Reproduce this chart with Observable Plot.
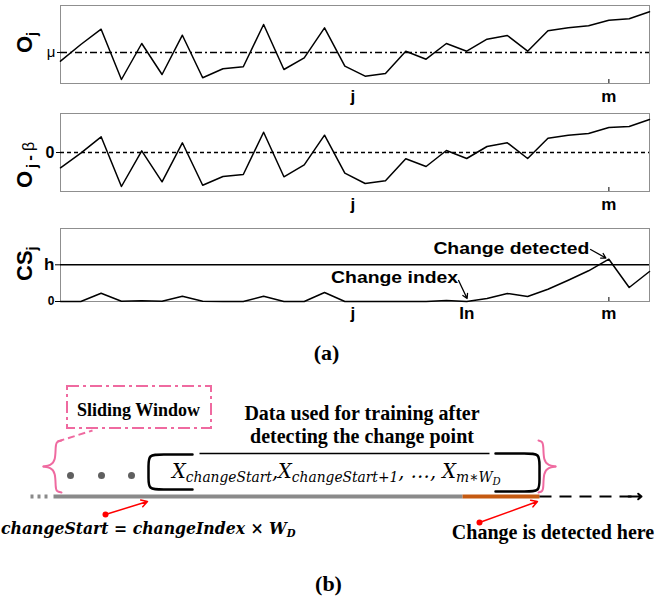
<!DOCTYPE html>
<html><head><meta charset="utf-8">
<script src="https://cdn.jsdelivr.net/npm/d3@7"></script>
<script src="https://cdn.jsdelivr.net/npm/@observablehq/plot@0.6"></script>
<style>
body{margin:0;background:#fff;}
#wrap{position:relative;width:668px;height:601px;overflow:hidden;background:#fff;}
#wrap svg{position:absolute;left:0;overflow:visible;}
</style></head><body><div id="wrap"></div>
<script>
// ---------- Data (a) ----------
const steps = [0,1,2,3,4,5,6,7,8,9,10,11,12,13,14,15,16,17,18,19,20,21,22,23,24,25,26,27,28,29];
const observed = [-8.7, 8.0, 23.3, -27.0, 9.0, -22.0, 17.3, -25.3, -16.3, -14.3, 28.0, -17.0, -5.3, 24.7, -13.7, -23.7, -21.0, 1.3, -6.7, 9.0, 1.3, 13.3, 17.0, 1.3, 21.7, 24.7, 26.7, 32.3, 33.7, 40.7];
const centered = [-15.3, -0.7, 15.7, -34.0, 1.7, -29.3, 9.7, -32.7, -24.0, -22.0, 20.3, -24.3, -12.3, 17.3, -20.7, -31.0, -28.3, -6.3, -14.0, 2.0, -6.0, 6.0, 9.7, -6.0, 14.3, 17.3, 19.0, 25.0, 26.0, 33.0];
const cusum = [0, 0, 8.3, 0.3, 0.7, 0.3, 5.3, 0.3, 0, 0, 5.3, 0, 0, 9.0, 0, 0, 0, 0, 0, 1.0, 0, 3.0, 8.0, 5.0, 12.3, 21.3, 30.7, 42.3, 14.0, 30.0];
const muLevel = 0, zeroLevel = 0, threshold = 36.7;
const mIndex = 27;
const ticksAB = [14.4, 27], ticksABLabels = ["j", "m"];
const ticksC = [14.4, 20, 27], ticksCLabels = ["j", "In", "m"];
const notes = [{label: "Change detected", x: 22.2, y: 53}, {label: "Change index", x: 16.45, y: 24}];
const noteWidths = [156, 127];
const pointers = [{x1: 26.1, y1: 52, x2: 26.85, y2: 43.5}, {x1: 19.6, y1: 21, x2: 20.02, y2: 3}];

// ---------- Data (b) ----------
const pink = "#ef6aa0";
const timelineY = 496;
const timeline = [
  {part: "lead", from: 30, to: 51},
  {part: "history", from: 53, to: 462},
  {part: "newData", from: 462, to: 539},
  {part: "future", from: 539, to: 632}
];
const windowDots = [70, 101, 131];
const windowBox = [{x1: 67, x2: 211, y1: 386, y2: 428}];
const connector = [{x1: 57, y1: 441, x2: 92, y2: 430}];
const braces = [
  ...[[61,440],[56,441],[55,446],[55,460],[50,465],[43,466]].map(([x,y]) => ({part: "L1", x, y})),
  ...[[43,466],[50,467],[55,472],[55,487],[56,491],[61,492]].map(([x,y]) => ({part: "L2", x, y})),
  ...[[538,440],[542,441],[543,446],[543,460],[548,465],[555,466]].map(([x,y]) => ({part: "R1", x, y})),
  ...[[555,466],[548,467],[543,472],[543,487],[542,491],[538,492]].map(([x,y]) => ({part: "R2", x, y}))
];
const brackets = [
  ...[[192,454],[160,454],[148,454],[148,466],[148,477],[148,489],[160,489],[192,489]].map(([x,y]) => ({part: "L", x, y})),
  ...[[495,453],[527,453],[539,453],[539,465],[539,479],[539,491],[527,491],[495,491]].map(([x,y]) => ({part: "R", x, y}))
];
const topLine = [{x1: 199, x2: 489, y: 453}];
const redPointers = [{x1: 105, y1: 514, x2: 147, y2: 501}, {x1: 479, y1: 522, x2: 537, y2: 501}];
const labelsB = [
  {text: "(a)", x: 326, y: 352, size: 22},
  {text: "Sliding Window", x: 138, y: 409.5, size: 18},
  {text: "Data used for training after", x: 361.5, y: 413.5, size: 20},
  {text: "detecting the change point", x: 361.5, y: 436.5, size: 20},
  {text: "Change is detected here", x: 552.5, y: 532.5, size: 20},
  {text: "(b)", x: 328, y: 583, size: 22}
];

const wrap = document.getElementById("wrap");
const sansStyle = {fontFamily: "Liberation Sans, Arial, sans-serif", fontSize: "16px", background: "transparent", overflow: "visible"};
const dataLine = vals => Plot.line(steps, {x: d => d, y: d => vals[d], stroke: "#000", strokeWidth: 1.5});
const fmt = (ticks, labels) => d => labels[ticks.indexOf(d)];

function place(svg, top) { svg.style.top = top + "px"; wrap.appendChild(svg); return svg; }
function yTitle(svg, pageTop, x, yBottom, parts) {
  const t = d3.select(svg).append("text")
    .attr("transform", `translate(${x},${yBottom - pageTop}) rotate(-90)`)
    .attr("text-anchor", "start")
    .attr("font-family", "Liberation Sans, Arial, sans-serif")
    .attr("font-weight", "bold").attr("font-size", 22).attr("fill", "#000");
  parts.forEach(p => t.append("tspan").attr("font-size", p.size).attr("dy", p.dy).attr("dx", p.dx || 0)
    .attr("font-weight", p.weight || "bold").text(p.text));
}
// scale a (possibly multi-tspan) text horizontally so it spans a given width
function fitScaled(sel, x, y, width) {
  sel.attr("x", 0).attr("y", 0).attr("text-anchor", "start");
  const w = sel.node().getBBox().width;
  sel.attr("transform", `translate(${x},${y}) scale(${width / w},1)`);
}

// Panel 1: O_j
const p1 = Plot.plot({
  width: 668, height: 108, marginLeft: 60, marginRight: 19, marginTop: 5, marginBottom: 25,
  x: {domain: [0, 29]}, y: {domain: [-31, 47]}, style: sansStyle,
  marks: [
    Plot.frame({stroke: "#8f8f8f"}),
    Plot.ruleY([muLevel], {stroke: "#000", strokeWidth: 1.5, strokeDasharray: "7,3,2,3"}),
    dataLine(observed),
    Plot.ruleX([mIndex], {insetTop: 74, stroke: "#000"}),
    Plot.axisX(ticksAB, {tickSize: 0, tickPadding: 6, tickFormat: fmt(ticksAB, ticksABLabels), fontSize: 17, fontWeight: "bold", label: null}),
    Plot.axisY([muLevel], {tickSize: 3, tickPadding: 2, tickFormat: () => "μ", fontSize: 15, label: null})
  ]
});
place(p1, 0);
yTitle(p1, 0, 32, 53, [{text: "O", size: 22, dy: 0}, {text: "j", size: 14, dy: 5}]);

// Panel 2: O_j - beta
const p2 = Plot.plot({
  width: 668, height: 108, marginLeft: 60, marginRight: 19, marginTop: 5, marginBottom: 25,
  x: {domain: [0, 29]}, y: {domain: [-39, 39]}, style: sansStyle,
  marks: [
    Plot.frame({stroke: "#8f8f8f"}),
    Plot.ruleY([zeroLevel], {stroke: "#000", strokeWidth: 1.5, strokeDasharray: "4,3"}),
    dataLine(centered),
    Plot.ruleX([mIndex], {insetTop: 74, stroke: "#000"}),
    Plot.axisX(ticksAB, {tickSize: 0, tickPadding: 6, tickFormat: fmt(ticksAB, ticksABLabels), fontSize: 17, fontWeight: "bold", label: null}),
    Plot.axisY([zeroLevel], {tickSize: 4, tickPadding: 2, tickFormat: () => "0", fontSize: 16, fontWeight: "bold", label: null})
  ]
});
place(p2, 108);
yTitle(p2, 108, 32, 188, [
  {text: "O", size: 22, dy: 0},
  {text: "j", size: 15, dy: 5, dx: 3},
  {text: "-", size: 17, dy: -2, dx: 3},
  {text: "β", size: 16, dy: -1, dx: 4, weight: "normal"}
]);

// Panel 3: CS_j
const p3 = Plot.plot({
  width: 668, height: 103, marginLeft: 60, marginRight: 19, marginTop: 5, marginBottom: 25,
  x: {domain: [0, 29]}, y: {domain: [0, 73]}, style: sansStyle,
  marks: [
    Plot.frame({stroke: "#8f8f8f"}),
    Plot.ruleY([threshold], {stroke: "#000", strokeWidth: 1.5}),
    dataLine(cusum),
    Plot.ruleX([mIndex], {insetTop: 69, stroke: "#000"}),
    Plot.text(notes, {x: "x", y: "y", text: "label", fontSize: 17, fontWeight: "bold"}),
    Plot.arrow(pointers, {x1: "x1", y1: "y1", x2: "x2", y2: "y2", stroke: "#000", strokeWidth: 1.3, headLength: 6}),
    Plot.axisX(ticksC, {tickSize: 0, tickPadding: 5, tickFormat: fmt(ticksC, ticksCLabels), fontSize: 17, fontWeight: "bold", label: null}),
    Plot.axisY([threshold], {tickSize: 5, tickPadding: 1, tickFormat: () => "h", fontSize: 17, fontWeight: "bold", label: null}),
    Plot.axisY([zeroLevel], {tickSize: 5, tickPadding: 1, tickFormat: () => "0", fontSize: 12, fontWeight: "bold", label: null})
  ]
});
place(p3, 223);
yTitle(p3, 223, 32, 281, [{text: "CS", size: 22, dy: 0}, {text: "j", size: 14, dy: 5}]);
d3.select(p3).selectAll("text").filter(function() { return notes.some(n => n.label === this.textContent); })
  .each(function() {
    const i = notes.findIndex(n => n.label === this.textContent);
    d3.select(this).attr("textLength", noteWidths[i]).attr("lengthAdjust", "spacingAndGlyphs");
  });

// Part (b)
const pb = Plot.plot({
  width: 668, height: 283, margin: 0,
  x: {domain: [0, 668], range: [0, 668], axis: null},
  y: {domain: [318, 601], range: [0, 283], axis: null},
  style: {fontFamily: "Liberation Serif, 'Times New Roman', serif", background: "transparent", overflow: "visible"},
  marks: [
    Plot.rect(windowBox, {x1: "x1", x2: "x2", y1: "y1", y2: "y2", fill: "none", stroke: pink, strokeWidth: 2, strokeDasharray: "12,4,3,4"}),
    Plot.link(connector, {x1: "x1", y1: "y1", x2: "x2", y2: "y2", stroke: pink, strokeWidth: 2, strokeDasharray: "7,4"}),
    Plot.line(braces, {x: "x", y: "y", z: "part", curve: "basis", stroke: pink, strokeWidth: 2}),
    Plot.line(brackets, {x: "x", y: "y", z: "part", curve: "basis", stroke: "#000", strokeWidth: 2.5}),
    Plot.link(topLine, {x1: "x1", x2: "x2", y1: "y", y2: "y", stroke: "#000", strokeWidth: 1.5}),
    Plot.dot(windowDots, {x: d => d, y: () => 475, r: 3.5, fill: "#5f5f5f", stroke: null}),
    Plot.link(timeline.filter(d => d.part === "lead"), {x1: "from", x2: "to", y1: () => timelineY, y2: () => timelineY, stroke: "#8a8a8a", strokeWidth: 4, strokeDasharray: "3,4"}),
    Plot.link(timeline.filter(d => d.part === "history"), {x1: "from", x2: "to", y1: () => timelineY, y2: () => timelineY, stroke: "#8a8a8a", strokeWidth: 4}),
    Plot.link(timeline.filter(d => d.part === "newData"), {x1: "from", x2: "to", y1: () => timelineY, y2: () => timelineY, stroke: "#c55a11", strokeWidth: 4}),
    Plot.link(timeline.filter(d => d.part === "future"), {x1: "from", x2: "to", y1: () => timelineY, y2: () => timelineY, stroke: "#000", strokeWidth: 2, strokeDasharray: "12,8"}),
    Plot.arrow([{x1: 628, x2: 641}], {x1: "x1", x2: "x2", y1: () => timelineY, y2: () => timelineY, stroke: "#000", strokeWidth: 2, headLength: 9, headAngle: 80}),
    Plot.arrow(redPointers, {x1: "x1", y1: "y1", x2: "x2", y2: "y2", stroke: "#ff0000", strokeWidth: 1.5, headLength: 7}),
    Plot.dot(redPointers, {x: "x1", y: "y1", r: 3, fill: "#ff0000", stroke: null}),
    Plot.text(labelsB, {x: "x", y: "y", text: "text", fontSize: d => d.size, fontWeight: "bold", fill: "#000"})
  ]
});
place(pb, 318);
{
  const top = 318;
  const svg = d3.select(pb);
  const m = svg.append("text")
    .attr("font-family", "DejaVu Serif, Liberation Serif, serif").attr("font-style", "italic")
    .attr("font-size", 21).attr("fill", "#000");
  m.append("tspan").text("X");
  m.append("tspan").attr("font-size", 15).attr("dy", 4).text("changeStart");
  m.append("tspan").attr("dy", -4).text(",X");
  m.append("tspan").attr("font-size", 15).attr("dy", 4).text("changeStart+1");
  m.append("tspan").attr("dy", -4).text(", …, X");
  m.append("tspan").attr("font-size", 15).attr("dy", 4).text("m∗W");
  m.append("tspan").attr("font-size", 11).attr("dy", 3).text("D");
  fitScaled(m, 172, 478 - top, 331);

  const f = svg.append("text")
    .attr("font-family", "DejaVu Serif, Liberation Serif, serif").attr("font-style", "italic")
    .attr("font-weight", "bold").attr("font-size", 17).attr("fill", "#000");
  f.append("tspan").text("changeStart = changeIndex × W");
  f.append("tspan").attr("font-size", 11).attr("dy", 3).text("D");
  fitScaled(f, 1, 534 - top, 295);
}
</script></body></html>
